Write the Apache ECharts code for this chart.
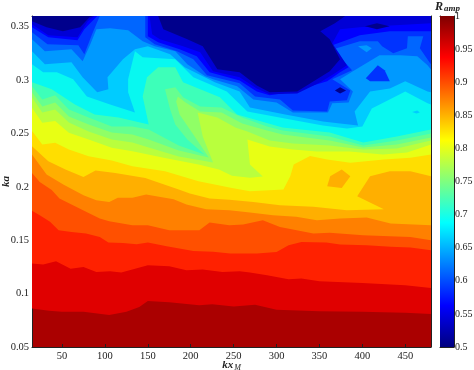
<!DOCTYPE html>
<html>
<head>
<meta charset="utf-8">
<script src="https://cdn.jsdelivr.net/npm/echarts@6/dist/echarts.min.js"></script>
<style>
html, body { margin: 0; padding: 0; background: #fff; }
#main { width: 474px; height: 370px; }
</style>
</head>
<body>
<div id="main"></div>
<script>
// tick labels
const kxTicks = [50, 100, 150, 200, 250, 300, 350, 400, 450];
const kaTicks = [0.05, 0.1, 0.15, 0.2, 0.25, 0.3, 0.35];
const kaLabels = ['0.05', '0.1', '0.15', '0.2', '0.25', '0.3', '0.35'];
const cbarLabels = ['0.5', '0.55', '0.6', '0.65', '0.7', '0.75', '0.8', '0.85', '0.9', '0.95', '1'];

// contour lines, [kx, ka], left edge to right edge
const r975 = [[15,.086],[35,.084],[50,.083],[75,.083],[105,.080],[125,.083],[140,.0875],[150,.093],[175,.092],[210,.089],[225,.090],[250,.088],[275,.0895],[300,.085],[350,.0834],[400,.083],[450,.082],[480,.081]];
const r950 = [[15,.1281],[28,.1272],[43,.1303],[60,.1234],[75,.125],[90,.1203],[106,.1209],[119,.1197],[133,.1228],[150,.1266],[175,.1256],[195,.1219],[214,.1225],[237,.1203],[257,.1209],[269,.1197],[289,.1172],[314,.1134],[329,.1141],[350,.1116],[400,.11],[450,.1078],[480,.1053]];
const r925 = [[15,.1775],[24,.1734],[36,.1672],[46,.1594],[61,.1578],[78,.1563],[94,.1531],[104,.1478],[121,.1475],[137,.1463],[150,.1478],[172,.1444],[203,.14],[226,.1391],[246,.1375],[277,.1375],[300,.139],[314,.1453],[329,.1484],[358,.1478],[374,.1459],[405,.1453],[433,.1438],[456,.1431],[480,.1406]];
const r900 = [[15,.213],[24,.2045],[38,.197],[47,.189],[78,.1766],[94,.1703],[105,.1678],[132,.164],[150,.164],[175,.1594],[210,.1594],[222,.1666],[245,.1641],[261,.1647],[284,.1688],[304,.1625],[343,.1563],[362,.1569],[401,.1547],[456,.1531],[480,.15]];
const r875 = [[15,.2303],[32,.2115],[52,.202],[75,.1922],[90,.1875],[105,.1859],[115,.1897],[132,.1897],[148,.1928],[180,.1884],[195,.1834],[218,.1791],[245,.1781],[269,.1759],[296,.1734],[323,.1719],[347,.1688],[374,.1703],[405,.1713],[433,.1656],[480,.1641]];
const r850 = [[15,.2381],[34,.224],[54,.2162],[75,.2093],[89,.2152],[112,.213],[147,.2083],[186,.1974],[199,.1938],[222,.1891],[245,.188],[273,.1859],[304,.1828],[343,.1813],[382,.1781],[425,.1791],[394,.1912],[409,.21],[432,.2147],[456,.2147],[480,.21]];
const r825 = [[15,.2522],[27,.2397],[42,.2412],[58,.235],[81,.2287],[108,.2246],[132,.2193],[170,.2146],[209,.2052],[248,.199],[269,.1959],[308,.1975],[316,.21],[320,.221],[339,.2288],[359,.2256],[386,.2225],[425,.2256],[456,.2272],[480,.2303]];
const r800 = [[15,.274],[27,.26],[42,.2616],[58,.2506],[81,.2443],[108,.2365],[132,.2334],[170,.2271],[209,.2209],[233,.2162],[248,.2105],[269,.2084],[284,.2096],[269,.2209],[266,.2444],[292,.2378],[319,.2349],[347,.2331],[385,.2331],[424,.2303],[452,.2321],[480,.2396]];
const r775 = [[15,.2838],[27,.2697],[42,.2725],[58,.2603],[81,.2519],[108,.2443],[132,.2415],[151,.2368],[186,.2284],[226,.2227],[214,.2472],[208,.2697],[231,.265],[252,.2556],[266,.2519],[292,.2434],[319,.2406],[362,.2387],[401,.235],[440,.2359],[480,.2434]];
const r750 = [[15,.2885],[27,.2753],[42,.2791],[58,.2659],[81,.2584],[108,.2509],[132,.249],[151,.2443],[186,.234],[221,.2274],[203,.249],[187,.2678],[183,.28],[185,.2847],[194,.2791],[211,.2706],[236,.2697],[260,.2594],[289,.2528],[307,.249],[362,.2434],[401,.2368],[440,.2396],[480,.2462]];
const r725 = [[15,.2941],[27,.2819],[42,.2857],[58,.2725],[81,.265],[108,.2565],[132,.2565],[151,.2537],[186,.2387],[216,.2303],[196,.2443],[182,.2584],[176,.2725],[170,.2913],[182,.2932],[191,.2838],[211,.2753],[236,.2744],[260,.265],[289,.2565],[307,.2528],[362,.2472],[401,.2387],[440,.2434],[480,.25]];
const r700 = [[15,.298],[38,.2913],[65,.2772],[88,.2678],[116,.265],[151,.2584],[144,.2847],[149,.3026],[162,.312],[182,.312],[191,.298],[234,.2838],[254,.2678],[307,.2556],[362,.2509],[401,.2415],[440,.2472],[480,.2537]];
const r675 = [[15,.3148],[28,.3073],[44,.3073],[63,.3007],[79,.2847],[106,.2772],[135,.2697],[127,.2885],[127,.3007],[135,.327],[144,.3213],[182,.3195],[203,.3026],[242,.2894],[266,.2706],[316,.2631],[354,.2575],[382,.2547],[400,.2565],[411,.2734],[430,.281],[450,.2894],[476,.2782],[480,.2772]];
const r650 = [[15,.327],[30,.3148],[61,.3166],[74,.3026],[91,.2885],[104,.2913],[103,.3026],[121,.3195],[135,.3289],[150,.3317],[176,.3242],[193,.312],[228,.298],[257,.2894],[269,.2744],[310,.2678],[354,.2612],[374,.2594],[395,.2575],[391,.2706],[409,.2894],[432,.2922],[450,.2988],[476,.2894],[480,.2885]];
const r625 = [[15,.3382],[30,.327],[61,.3289],[74,.3176],[83,.3335],[90,.3476],[106,.3486],[127,.3467],[144,.3364],[158,.3317],[182,.327],[196,.3148],[217,.3035],[226,.3007],[254,.2941],[273,.2819],[300,.2791],[319,.2697],[360,.2697],[365,.2782],[384,.2791],[389,.2894],[374,.3007],[389,.3082],[420,.3232],[444,.3232],[464,.3223],[476,.3138],[480,.31]];
const r600 = [[15,.3448],[33,.3335],[69,.3326],[76,.3242],[85,.3429],[94,.36],[147,.36],[147,.3401],[158,.3335],[184,.327],[203,.3195],[219,.3044],[257,.297],[275,.2847],[304,.2819],[319,.2716],[359,.2706],[362,.28],[382,.281],[386,.2903],[365,.3007],[388,.3091],[366,.3289],[397,.3364],[418,.3364],[423,.3317],[436,.3251],[452,.3298],[453,.341],[471,.341],[467,.3298],[479,.3157],[480,.3148]];
const r575 = [[15,.3495],[34,.3401],[68,.3373],[76,.3476],[85,.3552],[91,.36],[150,.36],[150,.3411],[162,.3354],[187,.3289],[207,.3223],[222,.3073],[257,.2997],[277,.2894],[292,.2857],[316,.2885],[359,.2988],[374,.3073],[384,.312],[362,.3317],[397,.342],[432,.3457],[480,.3457]];
const r550 = [[15,.3523],[34,.342],[68,.3401],[80,.3552],[88,.36],[152,.36],[155,.3429],[164,.3382],[191,.3317],[211,.326],[226,.3082],[257,.3026],[277,.2922],[292,.2866],[324,.2875],[351,.298],[368,.3063],[382,.3138],[365,.3345],[374,.3476],[397,.3495],[480,.3533]];

// closed pockets, [kx, ka]
const navyLeft = [[15,.36],[15,.3552],[32,.3495],[51,.3458],[71,.3495],[82,.3589],[86,.36]];
const navyMain = [[162,.36],[168,.3476],[196,.3382],[214,.3317],[231,.3101],[257,.3073],[277,.295],[292,.2885],[324,.2894],[347,.3007],[362,.3082],[374,.3195],[362,.3382],[351,.3458],[368,.3533],[380,.36]];
const navySpotA = [[403,.3505],[417,.3533],[432,.3505],[417,.3476]];
const navySpotB = [[368,.2903],[374,.2932],[381,.2903],[374,.2875]];
const blueBlob = [[404,.3016],[418,.3138],[426,.3091],[432,.2988],[409,.2988]];
const azureSpot = [[395,.3317],[405,.3326],[411,.3298],[405,.326]];
const skySpot = [[458,.2702],[464,.2716],[467,.2697],[463,.2688]];
const amberIsland = [[359,.2006],[362.5,.21],[376,.2162],[386,.21],[376,.199]];

// jet colour of each filled band
const bandColors = {
    r975: '#e00000', r950: '#ff2100', r925: '#ff5000', r900: '#ff8000', r875: '#ffaf00',
    r850: '#ffde00', r825: '#e8ff14', r800: '#b9ff3d', r775: '#90ff66', r750: '#66ff90',
    r725: '#3dffb9', r700: '#08f8f0', r675: '#00ccff', r650: '#0099ff', r625: '#0066ff',
    r600: '#0033ff', r575: '#0000ff', r550: '#0000d6', navy: '#00008c'
};
const jetStops = ['#00007f', '#0000ff', '#007fff', '#00ffff', '#7fff7f', '#ffff00', '#ff7f00', '#ff0000', '#7f0000'];

const kxMin = 15, kxMax = 480, kaMin = 0.05, kaMax = 0.36;

// painted bottom to top, every line closes along the top of the plot
const layers = [
    [r975, 'r975'], [r950, 'r950'], [r925, 'r925'], [r900, 'r900'], [r875, 'r875'],
    [r850, 'r850'], [r825, 'r825'], [r800, 'r800'], [r775, 'r775'], [r750, 'r750'],
    [r725, 'r725'], [r700, 'r700'], [r675, 'r675'], [r650, 'r650'], [r625, 'r625'],
    [r600, 'r600'], [r575, 'r575'], [r550, 'r550']
].map(function (l) {
    return { points: l[0].concat([[kxMax, kaMax], [kxMin, kaMax]]), fill: bandColors[l[1]] };
}).concat([
    { points: navyLeft, fill: bandColors.navy },
    { points: navyMain, fill: bandColors.navy },
    { points: navySpotA, fill: bandColors.navy },
    { points: navySpotB, fill: bandColors.navy },
    { points: blueBlob, fill: bandColors.r600 },
    { points: azureSpot, fill: bandColors.r650 },
    { points: skySpot, fill: bandColors.r675 },
    { points: amberIsland, fill: bandColors.r875 }
]);

const chart = echarts.init(document.getElementById('main'));

const serif = '"Liberation Serif", "DejaVu Serif", serif';
const frame = { show: true, onZero: false, lineStyle: { color: '#222', width: 1 } };
const inTick = { show: true, inside: true, length: 3, lineStyle: { color: '#222', width: 1 } };

function kxAxis(position, name) {
    return {
        type: 'value', gridIndex: 0, position: position, min: kxMin, max: kxMax,
        splitLine: { show: false }, axisLine: frame,
        axisTick: Object.assign({ customValues: kxTicks }, inTick),
        axisLabel: position === 'bottom'
            ? { customValues: kxTicks, color: '#222', fontFamily: serif, fontSize: 10.5, margin: 4 }
            : { show: false },
        name: name, nameLocation: 'middle', nameGap: 12, nameMoveOverlap: false,
        nameTextStyle: {
            rich: {
                v: { fontFamily: serif, fontStyle: 'italic', fontWeight: 'bold', fontSize: 11, color: '#222' },
                s: { fontFamily: serif, fontStyle: 'italic', fontSize: 8, color: '#222', padding: [5, 0, 0, 1] }
            }
        }
    };
}
function kaAxis(position, name) {
    return {
        type: 'value', gridIndex: 0, position: position, min: kaMin, max: kaMax,
        splitLine: { show: false }, axisLine: frame,
        axisTick: Object.assign({ customValues: kaTicks }, inTick),
        axisLabel: position === 'left'
            ? {
                customValues: kaTicks, color: '#222', fontFamily: serif, fontSize: 10.5, margin: 3,
                formatter: function (v) { return kaLabels[kaTicks.findIndex(function (t) { return Math.abs(t - v) < 1e-6; })]; }
            }
            : { show: false },
        name: name, nameLocation: 'middle', nameGap: 20, nameMoveOverlap: false,
        nameTextStyle: { fontFamily: serif, fontStyle: 'italic', fontWeight: 'bold', fontSize: 11, color: '#222' }
    };
}

const option = {
    animation: false,
    backgroundColor: '#fff',
    title: {
        text: '{r|R}{s|amp}', left: 435, top: 0, padding: 0,
        textStyle: {
            rich: {
                r: { fontFamily: serif, fontStyle: 'italic', fontWeight: 'bold', fontSize: 12, color: '#222' },
                s: { fontFamily: serif, fontStyle: 'italic', fontSize: 9, color: '#222', padding: [4, 0, 0, 1] }
            }
        }
    },
    grid: [
        { left: 32, right: 43, top: 16, bottom: 23, outerBoundsMode: 'none', show: true, borderWidth: 0, backgroundColor: '#aa0000' },
        { left: 440, width: 14, top: 16, bottom: 23, outerBoundsMode: 'none' }
    ],
    xAxis: [
        kxAxis('bottom', '{v|kx}{s|M}'),
        kxAxis('top', ''),
        { type: 'category', gridIndex: 1, position: 'bottom', data: [''], axisLine: frame, axisTick: { show: false }, axisLabel: { show: false } },
        { type: 'category', gridIndex: 1, position: 'top', data: [''], axisLine: frame, axisTick: { show: false }, axisLabel: { show: false } }
    ],
    yAxis: [
        kaAxis('left', 'ka'),
        kaAxis('right', ''),
        {
            type: 'value', gridIndex: 1, position: 'right', min: 0.5, max: 1, interval: 0.05,
            splitLine: { show: false }, axisLine: frame, axisTick: inTick,
            axisLabel: {
                color: '#222', fontFamily: serif, fontSize: 10, margin: 1,
                formatter: function (v) { return cbarLabels[Math.round((v - 0.5) / 0.05)]; }
            }
        },
        {
            type: 'value', gridIndex: 1, position: 'left', min: 0.5, max: 1, interval: 0.05,
            splitLine: { show: false }, axisLine: frame, axisTick: inTick, axisLabel: { show: false }
        }
    ],
    series: [
        {
            type: 'custom',
            xAxisIndex: 0,
            yAxisIndex: 0,
            coordinateSystem: 'cartesian2d',
            clip: true,
            silent: true,
            data: layers.map(function (l, i) { return [i]; }),
            encode: { x: [], y: [] },
            renderItem: function (params, api) {
                const layer = layers[api.value(0)];
                return {
                    type: 'polygon',
                    shape: { points: layer.points.map(function (p) { return api.coord(p); }) },
                    style: { fill: layer.fill }
                };
            }
        },
        {
            type: 'bar',
            xAxisIndex: 2,
            yAxisIndex: 2,
            barWidth: '100%',
            silent: true,
            data: [1],
            itemStyle: {
                color: new echarts.graphic.LinearGradient(0, 1, 0, 0, jetStops.map(function (c, i) {
                    return { offset: i / (jetStops.length - 1), color: c };
                }))
            }
        }
    ]
};

chart.setOption(option);
window.addEventListener('resize', function () {
    chart.resize();
});
</script>
</body>
</html>
